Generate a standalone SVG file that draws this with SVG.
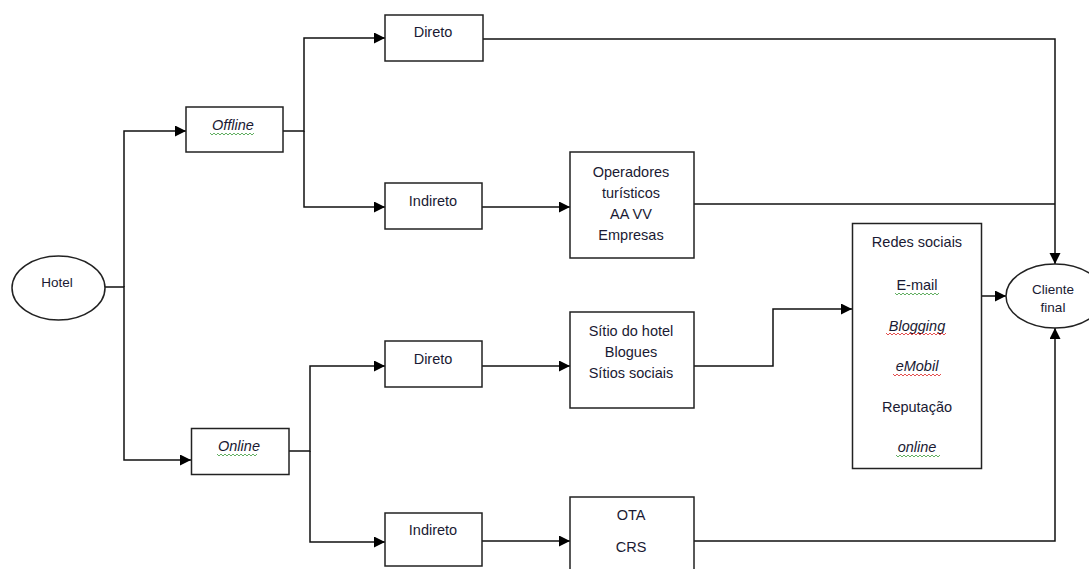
<svg xmlns="http://www.w3.org/2000/svg" width="1089" height="569" viewBox="0 0 1089 569">
<style>
.box{fill:#fff;stroke:#222;stroke-width:1.5}
.ell{fill:#fff;stroke:#222;stroke-width:1.5}
.t{font-family:"Liberation Sans",Arial,sans-serif;font-size:14.5px;fill:#1a1a33;text-anchor:middle;dominant-baseline:central}
.s{font-size:13.5px}
.i{font-style:italic}
.c{fill:none;stroke:#111;stroke-width:1.5}
.wg{fill:none;stroke:#3a9a3a;stroke-width:0.8}
.wr{fill:none;stroke:#d22;stroke-width:0.8}
</style>
<defs>
<marker id="ah" markerUnits="userSpaceOnUse" markerWidth="12" markerHeight="12" refX="11" refY="5.5" orient="auto">
<path d="M0,0 L11,5.5 L0,11 z" fill="#000"/>
</marker>
</defs>
<g id="connectors">
<path class="c" d="M124,287 V131 H186" marker-end="url(#ah)"/>
<path class="c" d="M105,287 H124 V460 H191" marker-end="url(#ah)"/>
<path class="c" d="M283,131 H304 V38 H385" marker-end="url(#ah)"/>
<path class="c" d="M304,131 V207 H385" marker-end="url(#ah)"/>
<path class="c" d="M483,39 H1055 V264" marker-end="url(#ah)"/>
<path class="c" d="M482,207 H570" marker-end="url(#ah)"/>
<path class="c" d="M694,204 H1055"/>
<path class="c" d="M289,451 H310 V366 H385" marker-end="url(#ah)"/>
<path class="c" d="M310,451 V542 H385" marker-end="url(#ah)"/>
<path class="c" d="M482,366 H570" marker-end="url(#ah)"/>
<path class="c" d="M694,366 H773 V309 H852" marker-end="url(#ah)"/>
<path class="c" d="M982,296 H1006" marker-end="url(#ah)"/>
<path class="c" d="M482,541 H570" marker-end="url(#ah)"/>
<path class="c" d="M694,541 H1055 V328" marker-end="url(#ah)"/>
</g>
<g id="hotel">
<ellipse class="ell" cx="58.5" cy="288" rx="46.5" ry="32"/>
<text class="t s" x="57" y="282">Hotel</text>
</g>
<g id="offline">
<rect class="box" x="186" y="107" width="97" height="45"/>
<text class="t i" x="233" y="125">Offline</text>
<path class="wg" d="M210,133 l2,2 l2,-2 l2,2 l2,-2 l2,2 l2,-2 l2,2 l2,-2 l2,2 l2,-2 l2,2 l2,-2 l2,2 l2,-2 l2,2 l2,-2 l2,2 l2,-2 l2,2 l2,-2 l2,2 l2,-2"/>
</g>
<g id="online">
<rect class="box" x="191.5" y="428.5" width="97.5" height="46"/>
<text class="t i" x="239" y="446">Online</text>
<path class="wg" d="M217,454 l2,2 l2,-2 l2,2 l2,-2 l2,2 l2,-2 l2,2 l2,-2 l2,2 l2,-2 l2,2 l2,-2 l2,2 l2,-2 l2,2 l2,-2 l2,2 l2,-2 l2,2 l2,-2"/>
</g>
<g id="direto-offline">
<rect class="box" x="385" y="15" width="98" height="46"/>
<text class="t" x="433" y="32">Direto</text>
</g>
<g id="indireto-offline">
<rect class="box" x="385" y="183" width="97" height="46"/>
<text class="t" x="433" y="201">Indireto</text>
</g>
<g id="direto-online">
<rect class="box" x="385" y="341" width="97" height="46"/>
<text class="t" x="433" y="359">Direto</text>
</g>
<g id="indireto-online">
<rect class="box" x="385" y="513" width="97" height="53"/>
<text class="t" x="433" y="530">Indireto</text>
</g>
<g id="operadores">
<rect class="box" x="570" y="152" width="124" height="106"/>
<text class="t" x="631" y="172">Operadores</text>
<text class="t" x="631" y="193">turísticos</text>
<text class="t" x="631" y="214">AA VV</text>
<text class="t" x="631" y="235">Empresas</text>
</g>
<g id="sitio">
<rect class="box" x="570" y="312" width="124" height="96"/>
<text class="t" x="631" y="331">Sítio do hotel</text>
<text class="t" x="631" y="352">Blogues</text>
<text class="t" x="631" y="373">Sítios sociais</text>
</g>
<g id="ota">
<rect class="box" x="570" y="497" width="124" height="80"/>
<text class="t" x="631" y="515">OTA</text>
<text class="t" x="631" y="547">CRS</text>
</g>
<g id="redes">
<rect class="box" x="852.5" y="223.5" width="129" height="245"/>
<text class="t" x="917" y="242">Redes sociais</text>
<text class="t" x="917" y="285">E-mail</text>
<path class="wg" d="M895,293 l2,2 l2,-2 l2,2 l2,-2 l2,2 l2,-2 l2,2 l2,-2 l2,2 l2,-2 l2,2 l2,-2 l2,2 l2,-2 l2,2 l2,-2 l2,2 l2,-2 l2,2 l2,-2 l2,2 l2,-2"/>
<text class="t i" x="917" y="326">Blogging</text>
<path class="wr" d="M886,333 l2,2 l2,-2 l2,2 l2,-2 l2,2 l2,-2 l2,2 l2,-2 l2,2 l2,-2 l2,2 l2,-2 l2,2 l2,-2 l2,2 l2,-2 l2,2 l2,-2 l2,2 l2,-2 l2,2 l2,-2 l2,2 l2,-2 l2,2 l2,-2 l2,2 l2,-2 l2,2 l2,-2"/>
<text class="t i" x="917" y="366">eMobil</text>
<path class="wr" d="M893,374 l2,2 l2,-2 l2,2 l2,-2 l2,2 l2,-2 l2,2 l2,-2 l2,2 l2,-2 l2,2 l2,-2 l2,2 l2,-2 l2,2 l2,-2 l2,2 l2,-2 l2,2 l2,-2 l2,2 l2,-2 l2,2 l2,-2"/>
<text class="t" x="917" y="407">Reputação</text>
<text class="t i" x="917" y="447">online</text>
<path class="wg" d="M896,455 l2,2 l2,-2 l2,2 l2,-2 l2,2 l2,-2 l2,2 l2,-2 l2,2 l2,-2 l2,2 l2,-2 l2,2 l2,-2 l2,2 l2,-2 l2,2 l2,-2 l2,2 l2,-2 l2,2 l2,-2"/>
</g>
<g id="cliente">
<ellipse class="ell" cx="1055" cy="296" rx="49" ry="32"/>
<text class="t s" x="1053" y="289">Cliente</text>
<text class="t s" x="1053" y="307">final</text>
</g>
</svg>
